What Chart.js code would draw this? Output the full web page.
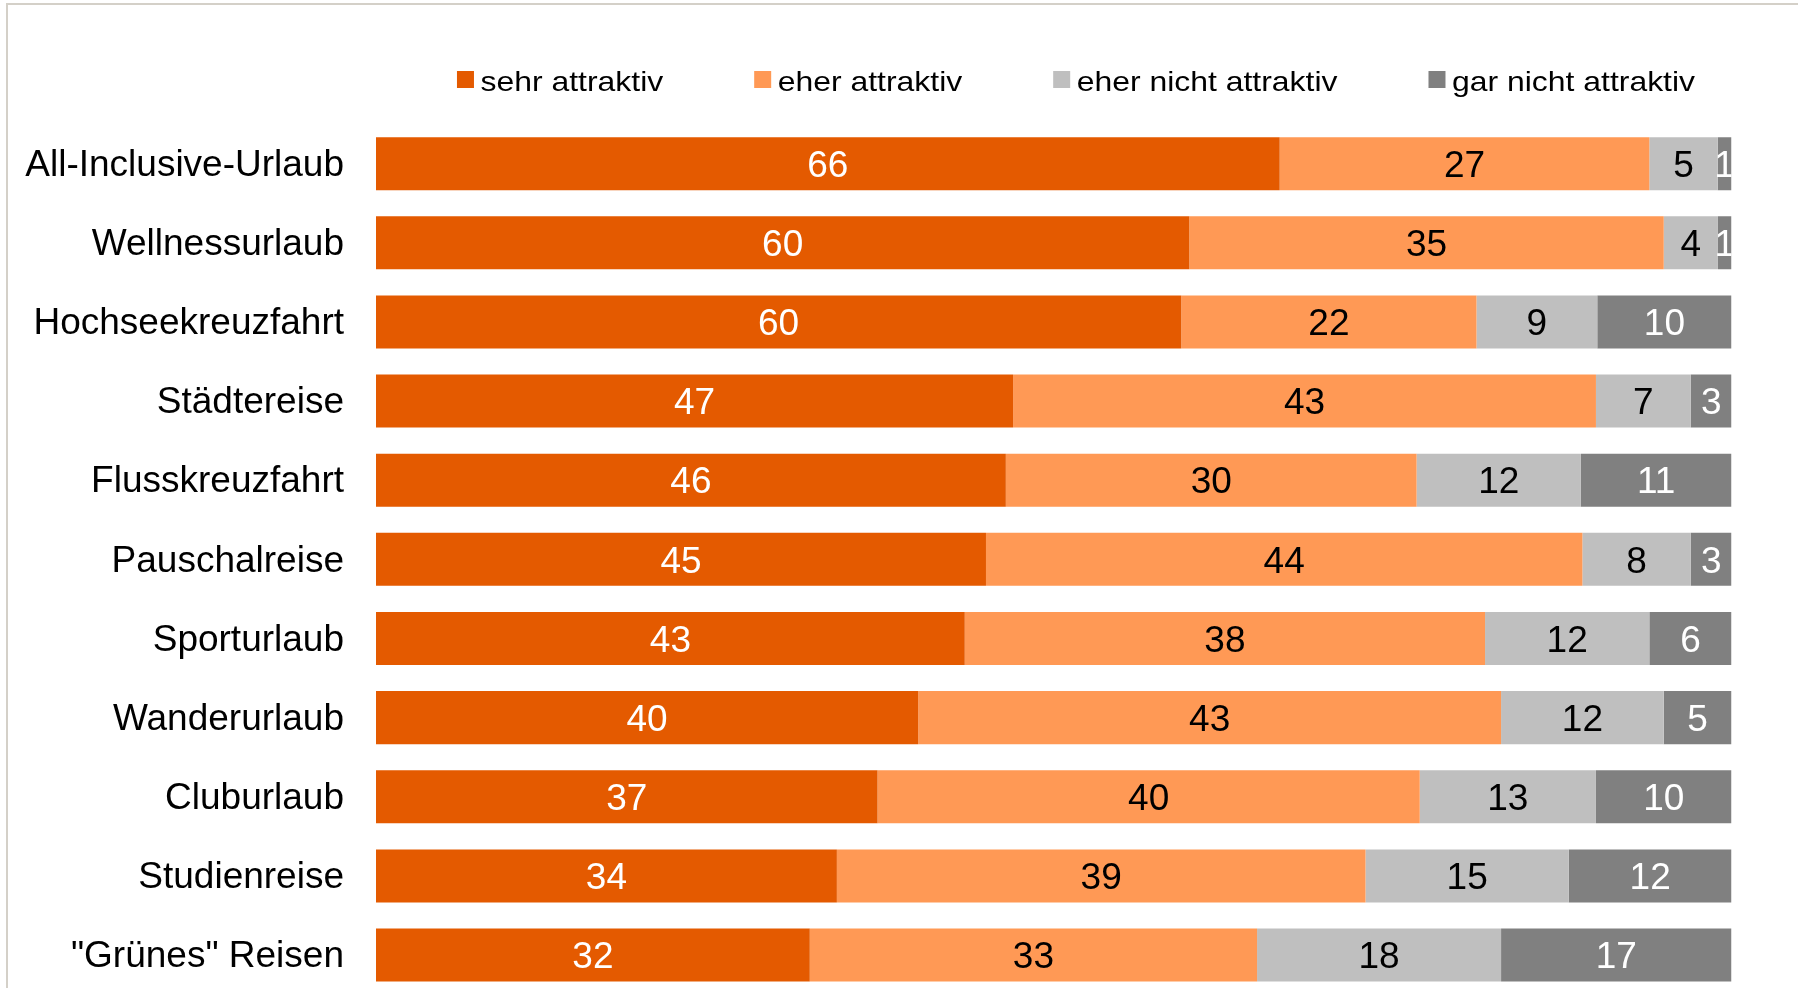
<!DOCTYPE html>
<html lang="de">
<head>
<meta charset="utf-8">
<title>Attraktivität von Urlaubsformen</title>
<script src="https://cdn.jsdelivr.net/npm/chart.js@4.4.1/dist/chart.umd.min.js"></script>
<style>
    html, body { margin: 0; padding: 0; background: #ffffff; overflow: hidden; }
    body { width: 1798px; height: 988px; position: relative; }
    .frame {
        position: absolute; left: 6px; top: 3px; right: 0; bottom: 0;
        border-top: 2px solid #d4d0c8; border-left: 2px solid #d4d0c8;
    }
    #chart { position: absolute; left: 0; top: 0; }
</style>
</head>
<body>
<div class="frame"></div>
<canvas id="chart" width="1798" height="1000"></canvas>
<script>
// Data (Prozent)
const categories = [
    'All-Inclusive-Urlaub', 'Wellnessurlaub', 'Hochseekreuzfahrt', 'Städtereise',
    'Flusskreuzfahrt', 'Pauschalreise', 'Sporturlaub', 'Wanderurlaub',
    'Cluburlaub', 'Studienreise', '"Grünes" Reisen'
];
const sehrAttraktiv      = [66, 60, 60, 47, 46, 45, 43, 40, 37, 34, 32];
const eherAttraktiv      = [27, 35, 22, 43, 30, 44, 38, 43, 40, 39, 33];
const eherNichtAttraktiv = [5, 4, 9, 7, 12, 8, 12, 12, 13, 15, 18];
const garNichtAttraktiv  = [1, 1, 10, 3, 11, 3, 6, 5, 10, 12, 17];
const seriesLabels = ['sehr attraktiv', 'eher attraktiv', 'eher nicht attraktiv', 'gar nicht attraktiv'];

// Colors
const chartColors = {
    sehr: '#e45a00',
    eher: '#ff9955',
    eherNicht: '#bfbfbf',
    garNicht: '#808080',
    text: '#000000',
    light: '#ffffff'
};
const fontFamily = "'Liberation Sans', Arial, sans-serif";

const series = [sehrAttraktiv, eherAttraktiv, eherNichtAttraktiv, garNichtAttraktiv];
const seriesColors = [chartColors.sehr, chartColors.eher, chartColors.eherNicht, chartColors.garNicht];
const labelColors = [chartColors.light, chartColors.text, chartColors.text, chartColors.light];

// each bar fills 100 %, so scale every row by its own total
const rowTotals = categories.map((_, i) => series.reduce((sum, s) => sum + s[i], 0));

// Value labels centred in each segment
const segmentLabels = {
    id: 'segmentLabels',
    afterDatasetsDraw(chart) {
        const ctx = chart.ctx;
        const area = chart.chartArea;
        ctx.save();
        ctx.beginPath();
        ctx.rect(area.left, area.top, area.right - area.left, area.bottom - area.top);
        ctx.clip();
        ctx.font = `37px ${fontFamily}`;
        ctx.textAlign = 'center';
        ctx.textBaseline = 'middle';
        chart.data.datasets.forEach((ds, di) => {
            const meta = chart.getDatasetMeta(di);
            ctx.fillStyle = labelColors[di];
            meta.data.forEach((bar, i) => {
                const p = bar.getProps(['x', 'y', 'base'], true);
                ctx.fillText(String(ds.raw[i]), (p.x + p.base) / 2, p.y + 3);
            });
        });
        ctx.restore();
    }
};

// Legend row with small square boxes
const legendStyle = { centerX: 1076, boxTop: 71, box: 17, boxGap: 6.5, itemGap: 91, baseline: 90.7, fontSize: 28.5, stretch: 1.12 };

const boxLegend = {
    id: 'boxLegend',
    afterDraw(chart) {
        const ctx = chart.ctx;
        const o = legendStyle;
        const items = chart.data.datasets;
        ctx.save();
        ctx.font = `${o.fontSize}px ${fontFamily}`;
        const widths = items.map(ds => ctx.measureText(ds.label).width * o.stretch);
        const total = widths.reduce((a, w) => a + o.box + o.boxGap + w, 0) + o.itemGap * (items.length - 1);
        let x = o.centerX - total / 2;
        items.forEach((ds, i) => {
            ctx.fillStyle = ds.backgroundColor;
            ctx.fillRect(x, o.boxTop, o.box, o.box);
            x += o.box + o.boxGap;
            ctx.save();
            ctx.translate(x, o.baseline);
            ctx.scale(o.stretch, 1);
            ctx.fillStyle = chartColors.text;
            ctx.textBaseline = 'alphabetic';
            ctx.fillText(ds.label, 0, 0);
            ctx.restore();
            x += widths[i] + o.itemGap;
        });
        ctx.restore();
    }
};

const ctx = document.getElementById('chart').getContext('2d');
new Chart(ctx, {
    type: 'bar',
    data: {
        labels: categories,
        datasets: series.map((values, si) => ({
            label: seriesLabels[si],
            raw: values,
            data: values.map((v, i) => v / rowTotals[i] * 100),
            backgroundColor: seriesColors[si],
            borderWidth: 0,
            categoryPercentage: 1,
            barPercentage: 0.67
        }))
    },
    options: {
        indexAxis: 'y',
        responsive: false,
        animation: false,
        devicePixelRatio: 1,
        layout: {
            padding: { top: 124.1, right: 66.5, bottom: 5.4, left: 0 }
        },
        plugins: {
            legend: { display: false },
            tooltip: { enabled: false }
        },
        scales: {
            x: {
                stacked: true,
                min: 0,
                max: 100,
                display: false
            },
            y: {
                stacked: true,
                grid: { display: false, drawTicks: false },
                border: { display: false },
                ticks: {
                    color: chartColors.text,
                    padding: 32,
                    labelOffset: 2,
                    font: { family: fontFamily, size: 37 }
                },
                afterFit(scale) {
                    scale.width = 376;
                    // labels must not push the plot area up from the bottom edge
                    scale.paddingTop = 0;
                    scale.paddingBottom = 0;
                }
            }
        }
    },
    plugins: [segmentLabels, boxLegend]
});
</script>
</body>
</html>
